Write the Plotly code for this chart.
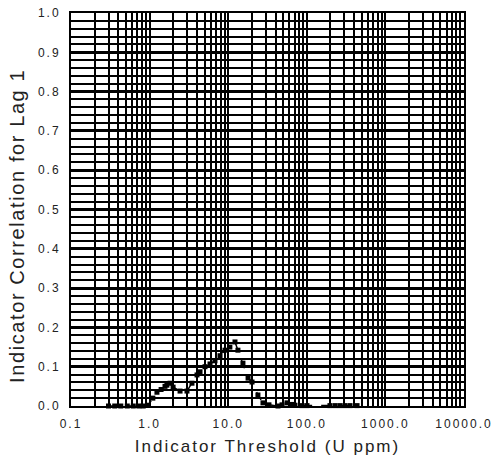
import plotly.graph_objs as go

# indicator threshold (U ppm) and lag-1 indicator correlation
threshold = [0.30, 0.36, 0.43, 0.52, 0.62, 0.73, 0.83, 0.96, 1.10, 1.24, 1.40, 1.57,
             1.66, 1.82, 1.99, 2.44, 2.99, 3.46, 4.01, 4.38, 5.07, 5.87, 6.79, 7.87,
             9.1, 10.5, 12.2, 13.3, 15.4, 17.9, 20.1, 23.9, 27.7, 33.0, 43.0, 48.4,
             56.0, 64.8, 70.8, 86.9, 100.6, 197, 229, 264, 306, 355, 436]
correlation = [0.0, 0.0, 0.0, 0.0, 0.0, 0.0, 0.0, 0.002, 0.02, 0.035, 0.042, 0.05,
               0.053, 0.058, 0.048, 0.038, 0.038, 0.058, 0.079, 0.087, 0.10, 0.107, 0.115, 0.128,
               0.142, 0.150, 0.163, 0.142, 0.109, 0.071, 0.061, 0.028, 0.008, 0.003, 0.0, 0.003,
               0.008, 0.004, 0.002, 0.001, 0.001, 0.001, 0.001, 0.001, 0.001, 0.001, 0.001]

x_tickvals = [0.1, 1, 10, 100, 1000, 10000]
x_ticktext = ["0.1", "1.0", "10.0", "100.0", "1000.0", "10000.0"]

fig = go.Figure()

fig.add_trace(go.Scatter(x=threshold, y=correlation,
                         mode='lines+markers',
                         line=dict(color='black', width=1.5, dash='dash'),
                         marker=dict(symbol='square', size=5, color='black'),
                         cliponaxis=False,
                         showlegend=False))

fig.update_layout(width=496, height=468,
                  margin=dict(l=71, r=32, t=13, b=62),
                  paper_bgcolor='white', plot_bgcolor='white',
                  font=dict(family='Liberation Sans, Arial, sans-serif', color='#222'),
                  xaxis=dict(type='log', range=[-1, 4], automargin=False, layer='below traces',
                             tickvals=x_tickvals, ticktext=x_ticktext,
                             tickfont=dict(size=12), ticklabelstandoff=6,
                             showgrid=True, gridcolor='black', gridwidth=1.6,
                             minor=dict(showgrid=True, gridcolor='black', gridwidth=1.6, dtick='D1'),
                             showline=True, linecolor='black', linewidth=2, mirror=True,
                             ticks='', zeroline=False,
                             title=dict(text='Indicator Threshold (U ppm)', font=dict(size=17),
                                        standoff=10)),
                  yaxis=dict(range=[0, 1], dtick=0.1, tickformat='.1f', automargin=False,
                             layer='below traces',
                             tickfont=dict(size=12), ticklabelstandoff=6,
                             showgrid=True, gridcolor='black', gridwidth=2.6,
                             minor=dict(showgrid=True, gridcolor='black', gridwidth=1.5, dtick=0.02),
                             showline=True, linecolor='black', linewidth=2, mirror=True,
                             ticks='', zeroline=False),
                  annotations=[dict(text='Indicator Correlation for Lag 1', textangle=-90,
                                    xref='paper', yref='paper', x=-0.137, y=0.458,
                                    xanchor='center', yanchor='middle', showarrow=False,
                                    font=dict(size=20))])

# page body has an 8px default margin; drop it, and widen letter spacing like the original lettering
css = ("<style>.xtick text, .ytick text {letter-spacing: 2px;}"
       " .xtitle {letter-spacing: 2px;} .annotation-text {letter-spacing: 1.6px;}</style>")
fig.write_html("out.html", config={'displayModeBar': False},
               post_script="document.body.style.margin='0';"
                           "document.head.insertAdjacentHTML('beforeend', '" + css + "');")
